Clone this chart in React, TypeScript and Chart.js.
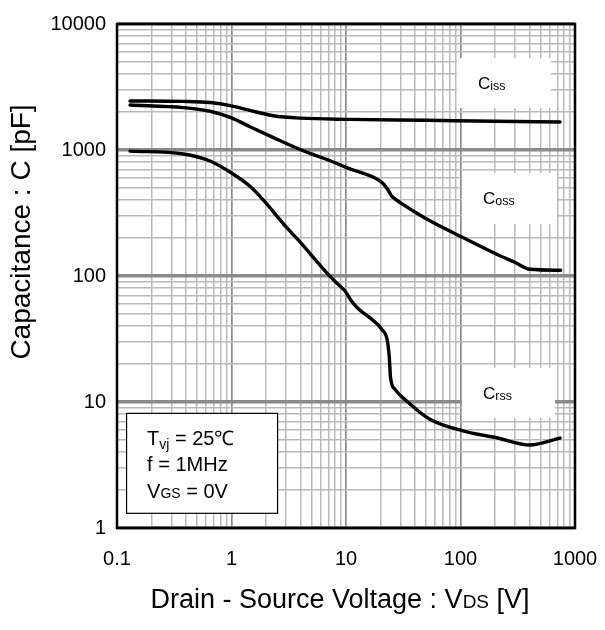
import React, { useEffect, useRef } from 'react';
import { Chart, registerables } from 'chart.js';

Chart.register(...registerables);

// ---- data (V_DS in V, capacitance in pF) ----
const vCiss = [0.13, 0.38, 0.65, 1.0, 1.45, 2.32, 3.96, 10.8, 50, 200, 740];
const cCiss = [2450, 2430, 2380, 2240, 2060, 1870, 1790, 1750, 1720, 1690, 1670];

const vCoss = [0.13, 0.38, 0.65, 1.0, 1.45, 2.3, 3.96, 5.18, 7.2, 10.1, 19.8, 22.6, 25, 27.7, 38.7, 54, 106, 207, 300, 405, 750];
const cCoss = [2275, 2170, 2030, 1800, 1530, 1260, 1010, 920, 825, 724, 568, 502, 432, 400, 328, 274, 201, 149, 128, 113, 111];

const vCrss = [0.13, 0.38, 0.65, 1.0, 1.45, 1.9, 3.0, 4.0, 5.2, 6.8, 8.3, 9.8, 11.2, 12.8, 16.2, 20.5, 23.0, 23.9, 24.5, 26.8, 33.8, 54, 105, 207, 405, 740];
const cCrss = [980, 930, 818, 657, 515, 400, 245, 185, 140, 106, 88, 76, 63, 55, 46.5, 37.8, 30.5, 22.5, 15.6, 12.6, 10.2, 7.3, 5.9, 5.2, 4.56, 5.17];

const xDecades = [0.1, 1, 10, 100, 1000];
const xTickLabels = ['0.1', '1', '10', '100', '1000'];
const yDecades = [1, 10, 100, 1000, 10000];
const yTickLabels = ['1', '10', '100', '1000', '10000'];

const FONT = '"Liberation Sans", Arial, Helvetica, sans-serif';

function minorTicks(decades: number[]) {
  const out: { value: number }[] = [];
  for (let i = 0; i < decades.length; i++) {
    const d = decades[i];
    if (i === decades.length - 1) {
      out.push({ value: d });
    } else {
      for (let m = 1; m <= 9; m++) out.push({ value: +(m * d).toPrecision(6) });
    }
  }
  return out;
}

function decadeIndex(v: number, decades: number[]) {
  for (let i = 0; i < decades.length; i++) {
    if (Math.abs(v - decades[i]) < decades[i] * 1e-6) return i;
  }
  return -1;
}

type Part = { t: string; size: number; dy?: number };

function drawRich(ctx: CanvasRenderingContext2D, parts: Part[], x: number, y: number, align: 'left' | 'center' = 'left') {
  ctx.save();
  ctx.textBaseline = 'alphabetic';
  ctx.textAlign = 'left';
  let total = 0;
  for (const p of parts) {
    ctx.font = `${p.size}px ${FONT}`;
    total += ctx.measureText(p.t).width;
  }
  let cx = align === 'center' ? x - total / 2 : x;
  for (const p of parts) {
    ctx.font = `${p.size}px ${FONT}`;
    ctx.fillText(p.t, cx, y + (p.dy || 0));
    cx += ctx.measureText(p.t).width;
  }
  ctx.restore();
}

// label boxes in data coordinates
const curveLabels = [
  { main: 'C', sub: 'iss', x0: 93, x1: 617, y0: 2154, y1: 5370 },
  { main: 'C', sub: 'oss', x0: 103, x1: 697, y0: 259, y1: 657 },
  { main: 'C', sub: 'rss', x0: 103, x1: 668, y0: 7.5, y1: 18.7 },
];
const condBox = { x0: 0.12, x1: 2.5, y0: 1.32, y1: 8.2 };

const overlayPlugin = {
  id: 'overlay',
  beforeDatasetsDraw(chart: any) {
    const ctx: CanvasRenderingContext2D = chart.ctx;
    const xs = chart.scales.x;
    const ys = chart.scales.y;
    ctx.save();
    for (const b of curveLabels) {
      const l = xs.getPixelForValue(b.x0);
      const r = xs.getPixelForValue(b.x1);
      const t = ys.getPixelForValue(b.y1);
      const bt = ys.getPixelForValue(b.y0);
      ctx.fillStyle = '#fff';
      ctx.fillRect(l, t, r - l, bt - t);
      ctx.fillStyle = '#000';
      const cy = (t + bt) / 2;
      drawRich(ctx, [
        { t: b.main, size: 17 },
        { t: b.sub, size: 12.5, dy: 1 },
      ], l + 21, cy + 6);
    }
    ctx.restore();
  },
  afterDraw(chart: any) {
    const ctx: CanvasRenderingContext2D = chart.ctx;
    const a = chart.chartArea;
    const xs = chart.scales.x;
    const ys = chart.scales.y;
    ctx.save();
    // plot frame
    ctx.strokeStyle = '#000';
    ctx.lineWidth = 2.5;
    ctx.strokeRect(a.left, a.top, a.right - a.left, a.bottom - a.top);

    // conditions box
    const l = xs.getPixelForValue(condBox.x0);
    const r = xs.getPixelForValue(condBox.x1);
    const t = ys.getPixelForValue(condBox.y1);
    const b = ys.getPixelForValue(condBox.y0);
    ctx.fillStyle = '#fff';
    ctx.fillRect(l, t, r - l, b - t);
    ctx.lineWidth = 1.2;
    ctx.strokeRect(l + 0.5, t + 0.5, r - l, b - t);
    ctx.fillStyle = '#000';
    const tx = l + 21;
    drawRich(ctx, [
      { t: 'T', size: 20 },
      { t: 'vj', size: 14, dy: 4 },
      { t: ' = 25\u2103', size: 20 },
    ], tx, t + 32);
    drawRich(ctx, [{ t: 'f = 1MHz', size: 20 }], tx, t + 58);
    drawRich(ctx, [
      { t: 'V', size: 20 },
      { t: 'GS', size: 14 },
      { t: ' = 0V', size: 20 },
    ], tx, t + 85);

    // x axis title
    drawRich(ctx, [
      { t: 'Drain - Source Voltage : V', size: 27 },
      { t: 'DS', size: 19 },
      { t: ' [V]', size: 27 },
    ], (a.left + a.right) / 2 - 6, 608, 'center');

    // y axis title
    ctx.save();
    ctx.translate(30, a.top + 208);
    ctx.rotate(-Math.PI / 2);
    drawRich(ctx, [{ t: 'Capacitance : C [pF]', size: 28 }], 0, 0, 'center');
    ctx.restore();

    ctx.restore();
  },
};

function toPoints(xs: number[], ys: number[]) {
  return xs.map((x, i) => ({ x, y: ys[i] }));
}

export default function App() {
  const ref = useRef<HTMLCanvasElement | null>(null);

  useEffect(() => {
    if (!ref.current) return;
    const lineStyle = {
      borderColor: '#000',
      borderWidth: 3.4,
      pointRadius: 0,
      fill: false,
      cubicInterpolationMode: 'monotone' as const,
      borderCapStyle: 'round' as const,
    };
    const chart = new Chart(ref.current, {
      type: 'line',
      data: {
        datasets: [
          { label: 'Ciss', data: toPoints(vCiss, cCiss), ...lineStyle },
          { label: 'Coss', data: toPoints(vCoss, cCoss), ...lineStyle },
          { label: 'Crss', data: toPoints(vCrss, cCrss), ...lineStyle },
        ],
      },
      options: {
        animation: false,
        responsive: false,
        maintainAspectRatio: false,
        layout: { padding: { left: 0, top: 24, right: 30, bottom: 0 } },
        plugins: { legend: { display: false }, tooltip: { enabled: false }, title: { display: false } },
        scales: {
          x: {
            type: 'logarithmic',
            min: 0.1,
            max: 1000,
            afterBuildTicks: (scale: any) => { scale.ticks = minorTicks(xDecades); },
            afterFit: (scale: any) => {
              scale.height = 102;
              scale.paddingLeft = 0;
              scale.paddingRight = 0;
            },
            border: { display: false },
            grid: {
              drawTicks: false,
              color: (c: any) => (decadeIndex(c.tick?.value, xDecades) >= 0 ? '#8a8a8a' : '#bababa'),
              lineWidth: (c: any) => (decadeIndex(c.tick?.value, xDecades) >= 0 ? 1.7 : 1.5),
            },
            ticks: {
              autoSkip: false,
              maxRotation: 0,
              padding: 19,
              color: '#000',
              font: { family: FONT, size: 20 },
              callback: (v: any) => {
                const i = decadeIndex(Number(v), xDecades);
                return i >= 0 ? xTickLabels[i] : '';
              },
            },
          },
          y: {
            type: 'logarithmic',
            min: 1,
            max: 10000,
            afterBuildTicks: (scale: any) => { scale.ticks = minorTicks(yDecades); },
            afterFit: (scale: any) => {
              scale.width = 117;
              scale.paddingTop = 0;
              scale.paddingBottom = 0;
            },
            border: { display: false },
            grid: {
              drawTicks: false,
              color: (c: any) => (decadeIndex(c.tick?.value, yDecades) >= 0 ? '#8a8a8a' : '#bababa'),
              lineWidth: (c: any) => (decadeIndex(c.tick?.value, yDecades) >= 0 ? 3.4 : 1.5),
            },
            ticks: {
              autoSkip: false,
              padding: 11,
              color: '#000',
              font: { family: FONT, size: 20 },
              callback: (v: any) => {
                const i = decadeIndex(Number(v), yDecades);
                return i >= 0 ? yTickLabels[i] : '';
              },
            },
          },
        },
      },
      plugins: [overlayPlugin],
    });
    return () => chart.destroy();
  }, []);

  return (
    <div style={{ position: 'fixed', left: 0, top: 0, width: 605, height: 630, background: '#fff' }}>
      <canvas ref={ref} width={605} height={630} style={{ display: 'block', width: 605, height: 630 }} />
    </div>
  );
}
